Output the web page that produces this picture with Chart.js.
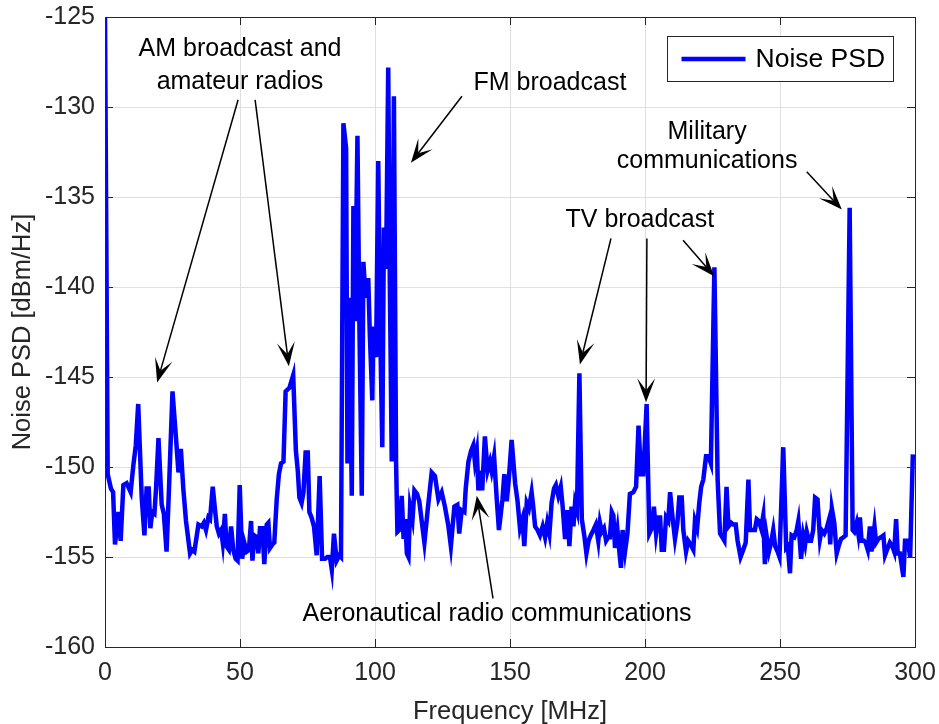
<!DOCTYPE html>
<html>
<head>
<meta charset="utf-8">
<script src="https://cdn.jsdelivr.net/npm/chart.js@4.4.1/dist/chart.umd.min.js"></script>
<style>
  html, body { margin: 0; padding: 0; background: #fff; }
</style>
</head>
<body>
<canvas id="psdChart" width="939" height="724"></canvas>
<script>
// measured noise spectrum, 0-300 MHz
var freq = [
  0, 1.0, 2.2, 3.0, 3.7, 5.0, 5.8, 6.8, 8.0, 9.5,
  10.5, 11.4, 12.3, 13.6, 14.6, 15.4, 16.2, 16.8, 17.5, 18.3,
  18.9, 19.8, 21.0, 21.8, 22.8, 23.7, 25.0, 26.3, 27.2, 28.1,
  29.0, 30.0, 31.5, 32.3, 33.1, 34.6, 35.8, 36.6, 37.4, 38.3,
  38.9, 39.9, 40.7, 41.4, 42.2, 43.0, 43.6, 44.4, 45.0, 45.9,
  46.7, 47.5, 48.4, 49.1, 49.9, 50.8, 51.6, 52.5, 53.3, 54.1,
  54.6, 55.3, 56.2, 56.8, 57.4, 58.3, 59.0, 59.9, 60.5, 61.1,
  62.0, 62.7, 63.6, 64.4, 65.2, 66.1, 66.9, 68.3, 69.7, 70.7,
  71.4, 72.0, 72.8, 73.5, 74.3, 75.1, 75.7, 76.5, 77.4, 78.4,
  79.5, 80.4, 81.5, 82.4, 83.3, 84.0, 84.8, 85.8, 86.8, 87.4,
  88.3, 89.3, 89.8, 90.5, 91.4, 92.0, 92.6, 93.5, 94.2, 95.1,
  95.7, 96.5, 97.5, 98.1, 99.0, 99.4, 100.4, 101.2, 101.9, 102.7,
  103.3, 104.1, 104.9, 105.5, 106.2, 107.0, 107.8, 108.3, 109.0, 109.9,
  110.6, 111.2, 111.8, 112.4, 113.0, 113.9, 114.6, 115.6, 116.4, 117.3,
  118.3, 119.5, 121.0, 122.2, 123.5, 124.7, 125.9, 127.2, 128.1, 129.4,
  130.5, 131.2, 132.1, 133.1, 133.6, 134.6, 135.6, 136.4, 137.0, 137.7,
  138.3, 139.1, 139.7, 140.7, 141.7, 142.6, 143.2, 144.1, 145.1, 145.9,
  147.2, 147.9, 148.8, 149.6, 150.6, 151.9, 152.8, 153.7, 154.6, 155.3,
  156.2, 157.0, 158.0, 158.6, 159.3, 160.2, 161.1, 162.1, 163.0, 163.8,
  164.6, 165.4, 166.3, 167.0, 167.9, 168.8, 169.5, 170.4, 171.2, 172.0,
  172.8, 173.5, 174.1, 174.8, 175.7, 176.6, 177.6, 178.3, 179.1, 179.9,
  180.9, 181.8, 182.7, 183.3, 184.0, 184.8, 185.6, 186.4, 187.0, 187.7,
  188.3, 188.9, 189.8, 190.5, 191.1, 191.7, 192.6, 193.5, 194.4, 195.7,
  196.7, 197.6, 198.5, 199.4, 200.6, 201.6, 202.5, 203.3, 204.1, 204.9,
  205.6, 206.2, 207.0, 207.8, 208.6, 209.3, 210.2, 211.1, 212.0, 212.7,
  213.6, 214.2, 215.2, 216.0, 216.9, 217.9, 218.5, 219.3, 220.1, 220.8,
  221.6, 222.6, 223.5, 224.4, 225.7, 226.9, 227.8, 228.6, 229.4, 230.2,
  230.9, 231.9, 232.7, 233.6, 234.3, 235.4, 236.4, 237.3, 238.3, 238.9,
  239.8, 240.7, 241.4, 242.2, 243.0, 243.8, 244.4, 245.1, 245.9, 246.7,
  247.5, 248.2, 249.1, 249.8, 251.2, 252.3, 252.9, 253.7, 254.3, 255.3,
  256.2, 256.8, 257.8, 258.6, 259.3, 259.9, 260.7, 261.5, 262.3, 263.0,
  263.9, 264.8, 265.4, 266.4, 267.3, 268.2, 268.6, 269.2, 270.1, 271.0,
  271.9, 272.6, 273.5, 274.3, 275.8, 276.9, 277.5, 278.4, 279.0, 279.6,
  280.2, 281.1, 281.7, 282.5, 283.3, 283.9, 285.0, 285.6, 286.4, 287.4,
  288.3, 288.9, 289.9, 290.7, 291.6, 292.3, 293.0, 293.6, 294.4, 295.0,
  295.7, 296.3, 297.3, 298.2, 299.2
];
var psd = [
  -125, -150.4, -151.2, -151.4, -154.3, -152.5, -154.1, -151.0, -150.9, -151.4,
  -149.9, -148.8, -146.5, -151.7, -153.8, -151.2, -151.2, -153.4, -152.5, -152.6,
  -151.2, -148.4, -152.1, -152.6, -154.7, -151.2, -145.8, -148.4, -150.3, -149.0,
  -151.2, -153.0, -154.8, -154.6, -154.7, -153.2, -153.3, -153.1, -153.5, -152.8,
  -152.9, -151.1, -152.3, -153.3, -153.7, -153.5, -154.2, -152.6, -154.4, -154.6,
  -153.3, -154.6, -155.1, -155.2, -151.0, -155.1, -154.2, -154.7, -154.6, -153.0,
  -155.2, -153.8, -153.9, -154.8, -153.4, -153.4, -155.4, -153.2, -153.1, -154.5,
  -154.3, -154.2, -151.8, -150.4, -149.8, -149.7, -145.8, -145.6, -144.9, -149.1,
  -150.2, -151.7, -152.0, -151.4, -149.2, -149.2, -152.5, -152.8, -153.3, -154.9,
  -150.5, -155.1, -155.1, -155.0, -155.0, -155.7, -153.7, -155.2, -154.9, -155.0,
  -130.9, -132.3, -149.8, -140.6, -151.6, -135.5, -141.9, -131.6, -141.9, -151.6,
  -138.6, -140.6, -139.5, -142.7, -146.3, -142.2, -143.9, -133.0, -142.2, -148.9,
  -136.7, -139.0, -127.8, -139.9, -149.7, -129.4, -149.7, -153.6, -153.5, -151.6,
  -154.0, -152.9, -154.8, -155.0, -152.2, -152.9, -151.3, -151.5, -151.9, -153.0,
  -154.2, -152.4, -150.3, -150.5, -151.8, -151.4, -152.2, -153.3, -154.4, -152.2,
  -152.1, -153.7, -152.4, -152.5, -151.2, -149.7, -149.1, -148.8, -149.7, -149.1,
  -151.3, -150.2, -151.3, -148.3, -150.2, -149.7, -150.2, -149.4, -151.8, -153.5,
  -151.8, -150.4, -151.9, -150.6, -148.5, -150.9, -151.9, -153.4, -152.9, -154.4,
  -152.0, -152.3, -151.4, -152.2, -153.3, -153.5, -153.8, -153.3, -153.9, -153.1,
  -153.7, -152.0, -151.2, -151.0, -151.6, -151.1, -152.2, -154.0, -152.4, -154.4,
  -152.2, -153.3, -152.0, -152.4, -144.8, -152.9, -153.9, -154.8, -154.1, -153.8,
  -153.5, -153.2, -154.1, -153.1, -153.6, -153.4, -154.1, -153.9, -153.9, -152.5,
  -152.7, -154.5, -153.5, -154.7, -155.6, -153.5, -154.7, -153.7, -151.5, -151.4,
  -151.1, -147.7, -150.4, -150.4, -146.5, -153.7, -153.4, -152.2, -153.7, -152.8,
  -152.8, -154.6, -154.6, -152.8, -153.0, -151.4, -152.8, -154.0, -153.1, -151.7,
  -151.7, -153.5, -154.7, -154.1, -154.3, -154.6, -153.0, -153.4, -152.0, -151.1,
  -150.7, -149.4, -149.4, -149.8, -138.9, -150.7, -153.7, -153.9, -154.1, -151.1,
  -153.3, -153.1, -153.2, -153.2, -154.1, -155.0, -154.6, -154.2, -150.7, -153.5,
  -153.5, -153.5, -152.9, -153.0, -153.4, -152.7, -155.4, -153.9, -154.7, -154.2,
  -153.5, -154.4, -154.7, -155.0, -148.9, -154.5, -154.4, -155.9, -153.8, -153.9,
  -153.5, -153.0, -155.1, -153.8, -154.3, -153.6, -154.1, -154.1, -153.5, -151.7,
  -151.8, -154.0, -153.5, -153.7, -153.4, -152.9, -154.3, -152.3, -153.1, -154.8,
  -154.3, -154.0, -153.9, -153.8, -135.6, -153.5, -153.6, -153.1, -153.7, -152.8,
  -154.1, -154.1, -154.2, -154.6, -153.3, -154.7, -153.3, -154.2, -154.0, -153.9,
  -153.8, -154.9, -154.5, -154.2, -154.4, -154.7, -152.9, -154.8, -154.8, -155.4,
  -156.1, -154.1, -154.1, -155.0, -149.3
];

var xTicks = [0, 50, 100, 150, 200, 250, 300];
var yTicks = [-160, -155, -150, -145, -140, -135, -130, -125];

// callout text, anchored in data units [MHz, dBm/Hz]
var noteText = ['AM broadcast and', 'amateur radios', 'FM broadcast', 'Military',
  'communications', 'TV broadcast', 'Aeronautical radio communications'];
var noteAt = [[50, -126.8], [50, -128.6], [164.8, -128.7], [223, -131.4],
  [223, -133.0], [198.1, -136.3], [145.2, -158.2]];

// arrows: tail -> head
var arrowFrom = [[49.3, -129.6], [55.6, -129.6], [132.2, -129.4], [259.9, -133.6],
  [187.4, -137.3], [200.7, -137.3], [214.1, -137.4], [143.7, -157.3]];
var arrowTo = [[19.3, -145.3], [68.1, -144.4], [113.3, -133.1], [272.9, -135.7],
  [175.9, -144.3], [200.4, -146.4], [225.6, -139.4], [137.7, -151.6]];

var FONT = '"Liberation Sans", Arial, Helvetica, sans-serif';
var AXIS_INK = '#262626';

function drawArrow(ctx, x0, y0, x1, y1) {
  var ang = Math.atan2(y1 - y0, x1 - x0);
  var L = 24, W = 9, N = 12;
  ctx.beginPath();
  ctx.moveTo(x0, y0);
  ctx.lineTo(x1 - N * Math.cos(ang), y1 - N * Math.sin(ang));
  ctx.stroke();
  ctx.save();
  ctx.translate(x1, y1);
  ctx.rotate(ang);
  ctx.beginPath();
  ctx.moveTo(0, 0);
  ctx.lineTo(-L, -W);
  ctx.lineTo(-N, 0);
  ctx.lineTo(-L, W);
  ctx.closePath();
  ctx.fill();
  ctx.restore();
}

var decorations = {
  id: 'decorations',
  afterDraw: function (chart) {
    var ctx = chart.ctx;
    var a = chart.chartArea;
    var xs = chart.scales.x, ys = chart.scales.y;
    var i;

    ctx.save();
    // axes box with inward ticks on every side
    ctx.strokeStyle = AXIS_INK;
    ctx.lineWidth = 1;
    ctx.strokeRect(Math.round(a.left) + 0.5, Math.round(a.top) + 0.5,
      Math.round(a.right - a.left), Math.round(a.bottom - a.top));
    ctx.beginPath();
    xTicks.forEach(function (v) {
      var px = Math.round(xs.getPixelForValue(v)) + 0.5;
      ctx.moveTo(px, a.bottom); ctx.lineTo(px, a.bottom - 8);
      ctx.moveTo(px, a.top); ctx.lineTo(px, a.top + 8);
    });
    yTicks.forEach(function (v) {
      var py = Math.round(ys.getPixelForValue(v)) + 0.5;
      ctx.moveTo(a.left, py); ctx.lineTo(a.left + 8, py);
      ctx.moveTo(a.right, py); ctx.lineTo(a.right - 8, py);
    });
    ctx.stroke();

    // callouts
    ctx.fillStyle = '#000';
    ctx.font = '25px ' + FONT;
    ctx.textAlign = 'center';
    ctx.textBaseline = 'middle';
    for (i = 0; i < noteText.length; i++) {
      ctx.fillText(noteText[i], xs.getPixelForValue(noteAt[i][0]), ys.getPixelForValue(noteAt[i][1]));
    }
    ctx.strokeStyle = '#000';
    ctx.lineWidth = 1.5;
    for (i = 0; i < arrowFrom.length; i++) {
      drawArrow(ctx,
        xs.getPixelForValue(arrowFrom[i][0]), ys.getPixelForValue(arrowFrom[i][1]),
        xs.getPixelForValue(arrowTo[i][0]), ys.getPixelForValue(arrowTo[i][1]));
    }

    // legend box, top right
    var ds = chart.data.datasets[0];
    var bx = a.right - 21.5, by = a.top + 19.5, bw = 226, bh = 45;
    ctx.fillStyle = '#fff';
    ctx.fillRect(bx - bw, by, bw, bh);
    ctx.strokeStyle = AXIS_INK;
    ctx.lineWidth = 1;
    ctx.strokeRect(bx - bw, by, bw, bh);
    ctx.strokeStyle = ds.borderColor;
    ctx.lineWidth = ds.borderWidth;
    ctx.beginPath();
    ctx.moveTo(bx - bw + 14, by + bh / 2);
    ctx.lineTo(bx - bw + 78, by + bh / 2);
    ctx.stroke();
    ctx.fillStyle = '#000';
    ctx.font = '26.5px ' + FONT;
    ctx.textAlign = 'left';
    ctx.fillText(ds.label, bx - bw + 88, by + bh / 2 + 1);
    ctx.restore();
  }
};

var points = freq.map(function (f, i) { return { x: f, y: psd[i] }; });

new Chart(document.getElementById('psdChart'), {
  type: 'line',
  data: {
    datasets: [{
      label: 'Noise PSD',
      data: points,
      borderColor: '#0000ff',
      borderWidth: 4.5,
      pointRadius: 0,
      tension: 0,
      fill: false,
      clip: 0
    }]
  },
  options: {
    responsive: false,
    animation: false,
    layout: { padding: { top: 17, right: 24, left: 0, bottom: 0 } },
    plugins: { legend: { display: false }, tooltip: { enabled: false } },
    scales: {
      x: {
        type: 'linear',
        min: 0,
        max: 300,
        afterBuildTicks: function (s) { s.ticks = xTicks.map(function (v) { return { value: v }; }); },
        afterFit: function (s) { s.height = 77; s.paddingLeft = 0; s.paddingRight = 0; },
        grid: { color: '#dfdfdf', lineWidth: 1, drawTicks: false },
        border: { display: false },
        ticks: { color: AXIS_INK, font: { family: FONT, size: 25 }, padding: 11, maxRotation: 0,
          callback: function (v) { return String(v); } },
        title: { display: true, text: 'Frequency [MHz]', color: AXIS_INK,
          font: { family: FONT, size: 25.5 }, padding: { top: 0, bottom: -3 } }
      },
      y: {
        type: 'linear',
        min: -160,
        max: -125,
        afterBuildTicks: function (s) { s.ticks = yTicks.map(function (v) { return { value: v }; }); },
        afterFit: function (s) { s.width = 105; s.paddingTop = 0; s.paddingBottom = 0; },
        grid: { color: '#dfdfdf', lineWidth: 1, drawTicks: false },
        border: { display: false },
        ticks: { color: AXIS_INK, font: { family: FONT, size: 25 }, padding: 10,
          callback: function (v) { return String(v); } },
        title: { display: true, text: 'Noise PSD [dBm/Hz]', color: AXIS_INK,
          font: { family: FONT, size: 25.5 }, padding: { top: 8, bottom: 0 } }
      }
    }
  },
  plugins: [decorations]
});
</script>
</body>
</html>
